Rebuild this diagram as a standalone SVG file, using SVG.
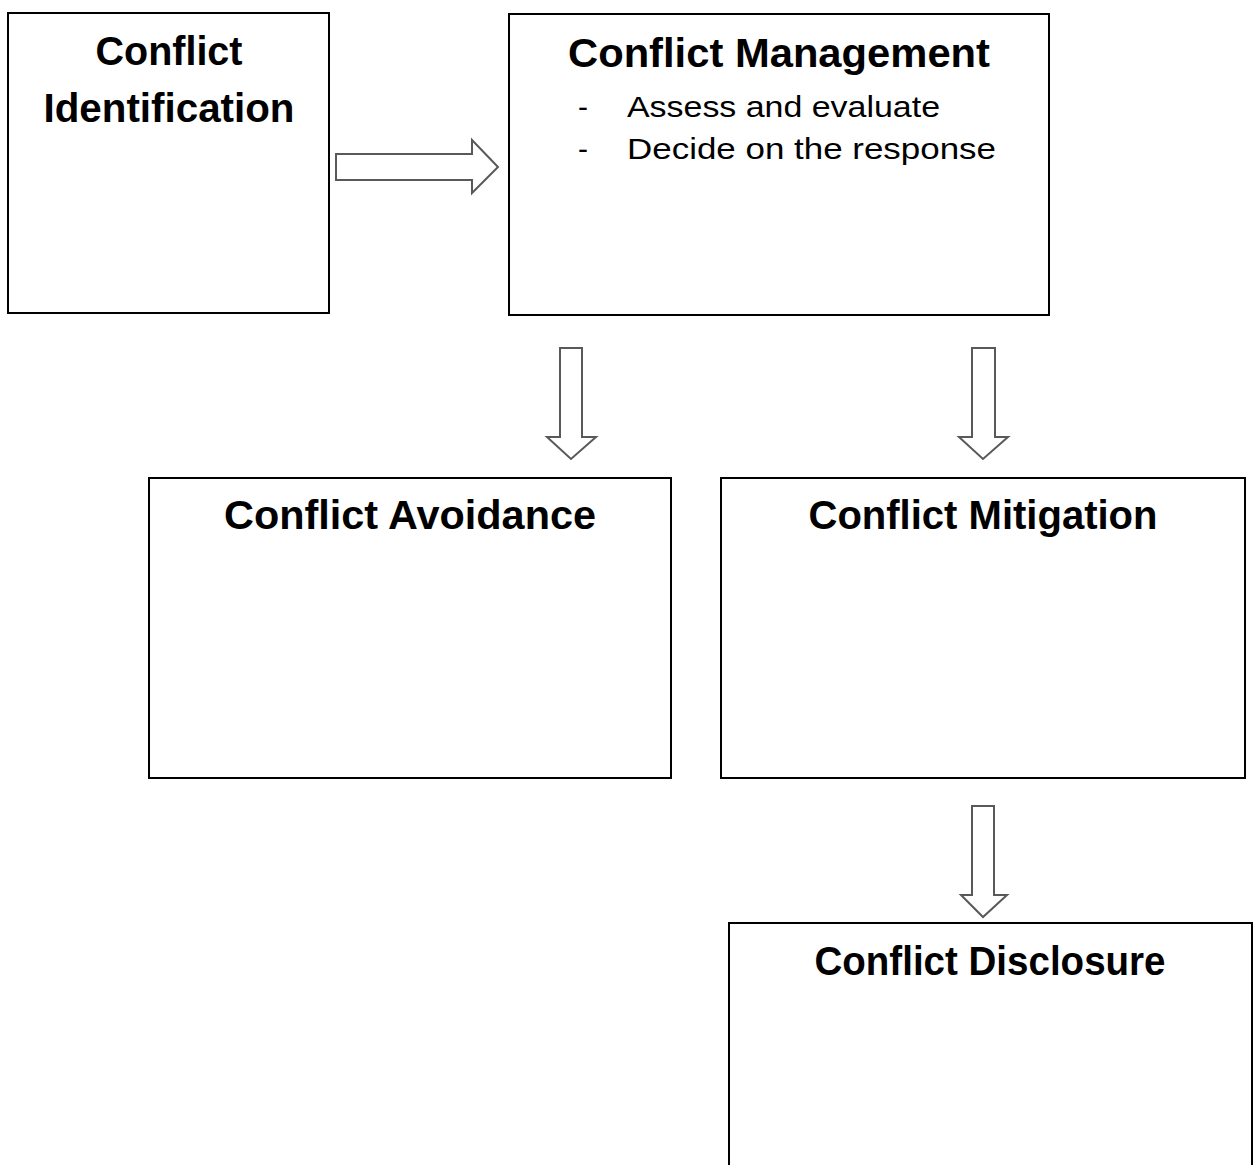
<svg xmlns="http://www.w3.org/2000/svg" width="1254" height="1165" viewBox="0 0 1254 1165">
<style>
.box{fill:#fff;stroke:#000;stroke-width:2}
.arr{fill:#fff;stroke:#595959;stroke-width:2;stroke-linejoin:miter}
.t{font-family:"Liberation Sans",Arial,sans-serif;font-weight:bold;font-size:40px;fill:#000}
.b{font-family:"Liberation Sans",Arial,sans-serif;font-size:30px;fill:#000}
</style>
<rect width="1254" height="1165" fill="#fff"/>
<g id="connectors">
<path class="arr" d="M336,154 H472 V140 L498,167 L472,193 V180 H336 Z"/>
<path class="arr" d="M560,348 H582 V437 H596 L571,459 L547,437 H560 Z"/>
<path class="arr" d="M972,348 H995 V437 H1008 L983,459 L959,437 H972 Z"/>
<path class="arr" d="M972,806 H994 V895 H1007 L983,917 L961,895 H972 Z"/>
</g>
<g id="identification">
<rect class="box" x="8" y="13" width="321" height="300"/>
<text class="t" x="169" y="65" text-anchor="middle" textLength="147" lengthAdjust="spacingAndGlyphs">Conflict</text>
<text class="t" x="169" y="122" text-anchor="middle" textLength="251" lengthAdjust="spacingAndGlyphs">Identification</text>
</g>
<g id="management">
<rect class="box" x="509" y="14" width="540" height="301"/>
<text class="t" x="779" y="67" text-anchor="middle" textLength="422" lengthAdjust="spacingAndGlyphs">Conflict Management</text>
<text class="b" x="578" y="117" textLength="10" lengthAdjust="spacingAndGlyphs">-</text>
<text class="b" x="627" y="117" textLength="313" lengthAdjust="spacingAndGlyphs">Assess and evaluate</text>
<text class="b" x="578" y="159" textLength="10" lengthAdjust="spacingAndGlyphs">-</text>
<text class="b" x="627" y="159" textLength="369" lengthAdjust="spacingAndGlyphs">Decide on the response</text>
</g>
<g id="avoidance">
<rect class="box" x="149" y="478" width="522" height="300"/>
<text class="t" x="410" y="529" text-anchor="middle" textLength="372" lengthAdjust="spacingAndGlyphs">Conflict Avoidance</text>
</g>
<g id="mitigation">
<rect class="box" x="721" y="478" width="524" height="300"/>
<text class="t" x="983" y="529" text-anchor="middle" textLength="349" lengthAdjust="spacingAndGlyphs">Conflict Mitigation</text>
</g>
<g id="disclosure">
<rect class="box" x="729" y="923" width="523" height="260"/>
<text class="t" x="990" y="975" text-anchor="middle" textLength="351" lengthAdjust="spacingAndGlyphs">Conflict Disclosure</text>
</g>
</svg>
